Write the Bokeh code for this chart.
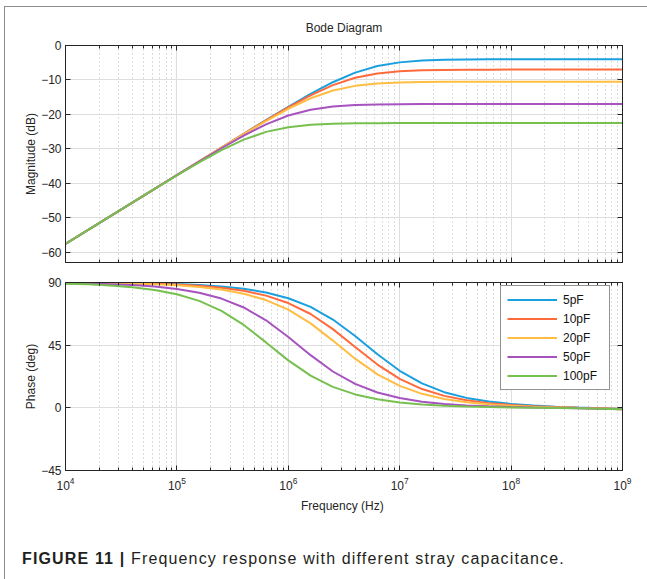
from bokeh.plotting import figure
from bokeh.models import (FixedTicker, LogAxis, LinearAxis, Legend, LegendItem,
                          Div, CustomJSTickFormatter, Range1d)
from bokeh.layouts import column
from bokeh.embed import file_html
from bokeh.resources import INLINE

# ---------------- data ----------------
freq = [1.0e4, 1.585e4, 2.512e4, 3.981e4, 6.310e4,
        1.0e5, 1.585e5, 2.512e5, 3.981e5, 6.310e5,
        1.0e6, 1.585e6, 2.512e6, 3.981e6, 6.310e6,
        1.0e7, 1.585e7, 2.512e7, 3.981e7, 6.310e7,
        1.0e8, 1.585e8, 2.512e8, 3.981e8, 6.310e8,
        1.0e9]

series_labels = ["5pF", "10pF", "20pF", "50pF", "100pF"]

mag_5pF = [-57.6, -53.6, -49.6, -45.6, -41.6, -37.6, -33.6, -29.61, -25.63, -21.68,
           -17.79, -14.05, -10.66, -7.88, -5.97, -4.90, -4.38, -4.16, -4.06, -4.02,
           -4.01, -4.0, -4.0, -4.0, -4.0, -4.0]
mag_10pF = [-57.6, -53.6, -49.6, -45.6, -41.6, -37.6, -33.61, -29.62, -25.66, -21.75,
            -17.96, -14.46, -11.50, -9.37, -8.10, -7.47, -7.19, -7.08, -7.03, -7.01,
            -7.0, -7.0, -7.0, -7.0, -7.0, -7.0]
mag_20pF = [-57.6, -53.6, -49.6, -45.6, -41.6, -37.61, -33.62, -29.65, -25.73, -21.93,
            -18.37, -15.33, -13.08, -11.72, -11.03, -10.72, -10.59, -10.54, -10.51, -10.5,
            -10.5, -10.5, -10.5, -10.5, -10.5, -10.5]
mag_50pF = [-57.6, -53.6, -49.6, -45.6, -41.62, -37.64, -33.69, -29.83, -26.16, -22.89,
            -20.32, -18.64, -17.73, -17.30, -17.12, -17.05, -17.02, -17.0, -17.0, -17.0,
            -17.0, -17.0, -17.0, -17.0, -17.0, -17.0]
mag_100pF = [-57.6, -53.6, -49.61, -45.62, -41.65, -37.73, -33.93, -30.37, -27.33, -25.08,
             -23.72, -23.03, -22.72, -22.59, -22.54, -22.51, -22.5, -22.5, -22.5, -22.5,
             -22.5, -22.5, -22.5, -22.5, -22.5, -22.5]

ph_5pF = [89.89, 89.82, 89.71, 89.55, 89.28, 88.86, 88.19, 87.13, 85.46, 82.82,
          78.72, 72.45, 63.38, 51.54, 38.46, 26.62, 17.53, 11.25, 7.13, 4.47,
          2.76, 1.63, 0.85, 0.27, -0.26, -0.85]
ph_10pF = [89.85, 89.76, 89.62, 89.40, 89.05, 88.49, 87.61, 86.22, 84.02, 80.58,
           75.26, 67.37, 56.54, 43.70, 31.07, 20.81, 13.47, 8.58, 5.40, 3.38,
           2.07, 1.19, 0.58, 0.10, -0.37, -0.92]
ph_20pF = [89.80, 89.68, 89.49, 89.19, 88.72, 87.97, 86.78, 84.91, 81.96, 77.38,
           70.47, 60.65, 48.29, 35.30, 24.07, 15.74, 10.06, 6.37, 4.00, 2.49,
           1.51, 0.84, 0.35, -0.04, -0.46, -0.98]
ph_50pF = [89.53, 89.26, 88.83, 88.15, 87.06, 85.35, 82.66, 78.46, 72.07, 62.84,
           50.90, 37.82, 26.09, 17.17, 11.03, 7.01, 4.42, 2.77, 1.72, 1.05,
           0.59, 0.26, -0.01, -0.27, -0.61, -1.07]
ph_100pF = [89.15, 88.66, 87.87, 86.63, 84.67, 81.59, 76.81, 69.62, 59.51, 46.98,
            34.06, 23.11, 15.07, 9.64, 6.12, 3.87, 2.42, 1.51, 0.92, 0.54,
            0.28, 0.06, -0.14, -0.35, -0.66, -1.10]

mag_series = [mag_5pF, mag_10pF, mag_20pF, mag_50pF, mag_100pF]
ph_series = [ph_5pF, ph_10pF, ph_20pF, ph_50pF, ph_100pF]

x_major = [1e4, 1e5, 1e6, 1e7, 1e8, 1e9]
mag_ticks = [-60, -50, -40, -30, -20, -10, 0]
ph_ticks = [-45, 0, 45, 90]

# ---------------- styles ----------------
colors = ["#1a9fdf", "#ff6a3c", "#ffbd44", "#a653bf", "#77c04f"]
FONT = "Liberation Sans"
TXT = "#262626"
FRAME = "#8c8c8c"
x_minor = [m * 10 ** e for e in range(4, 9) for m in range(2, 10)]

left_line = ("linear-gradient(to right, transparent 4px, %s 4px, %s 5px, transparent 5px) "
             "0 6px / 100%% 100%% no-repeat" % (FRAME, FRAME))
top_line = ("linear-gradient(to bottom, transparent 6px, %s 6px, %s 7px, transparent 7px) "
            "4px 0 / 100%% 100%% no-repeat" % (FRAME, FRAME))


def blank():
    return CustomJSTickFormatter(code="return '';")


def style_axes(p, yticks):
    for ax in p.axis:
        ax.axis_line_color = TXT
        ax.major_tick_line_color = TXT
        ax.minor_tick_line_color = TXT
        ax.major_tick_in = 5
        ax.major_tick_out = 0
        ax.minor_tick_in = 3
        ax.minor_tick_out = 0
        ax.major_label_text_font = FONT
        ax.major_label_text_font_size = "12px"
        ax.major_label_text_color = TXT
        ax.axis_label_text_font = FONT
        ax.axis_label_text_font_size = "12px"
        ax.axis_label_text_font_style = "normal"
        ax.axis_label_text_color = TXT
    p.xaxis.ticker = FixedTicker(ticks=x_major, minor_ticks=x_minor)
    p.yaxis.ticker = FixedTicker(ticks=yticks)
    p.yaxis.minor_tick_in = 0
    p.yaxis.major_label_standoff = 4
    p.yaxis.axis_label_standoff = 0
    p.xgrid.ticker = FixedTicker(ticks=x_major, minor_ticks=x_minor)
    p.xgrid.grid_line_color = "#dedede"
    p.xgrid.minor_grid_line_color = "#b8b8b8"
    p.xgrid.minor_grid_line_dash = "1 3"
    p.ygrid.ticker = FixedTicker(ticks=yticks)
    p.ygrid.grid_line_color = "#dedede"
    p.outline_line_color = TXT
    p.border_fill_alpha = 0

    top = LogAxis(ticker=FixedTicker(ticks=x_major, minor_ticks=x_minor), formatter=blank(),
                  major_tick_in=5, major_tick_out=0, minor_tick_in=3, minor_tick_out=0,
                  major_label_standoff=0, axis_line_color=TXT,
                  major_tick_line_color=TXT, minor_tick_line_color=TXT)
    p.add_layout(top, "above")
    right = LinearAxis(ticker=FixedTicker(ticks=yticks), formatter=blank(),
                       major_tick_in=5, major_tick_out=0, minor_tick_in=0, minor_tick_out=0,
                       major_label_standoff=0, axis_line_color=TXT,
                       major_tick_line_color=TXT)
    p.add_layout(right, "right")


# ---------------- magnitude ----------------
p1 = figure(width=647, height=272, x_axis_type="log",
            x_range=Range1d(1e4, 1e9), y_range=Range1d(-63, 0),
            output_backend="svg", toolbar_location=None,
            min_border_left=65, min_border_right=25, min_border_top=45, min_border_bottom=10,
            title="Bode Diagram",
            styles={"background": top_line})
p1.title.align = "center"
p1.title.text_font = FONT
p1.title.text_font_size = "12px"
p1.title.text_font_style = "normal"
p1.title.text_color = TXT
p1.title.standoff = 17
p1.title.padding = 2
for ys, c in zip(mag_series, colors):
    p1.line(freq, ys, line_color=c, line_width=2)
style_axes(p1, mag_ticks)
p1.below[0].formatter = blank()
p1.left[0].axis_label = "Magnitude (dB)"

# ---------------- phase ----------------
p2 = figure(width=647, height=248, x_axis_type="log",
            x_range=Range1d(1e4, 1e9), y_range=Range1d(-45, 90),
            output_backend="svg", toolbar_location=None,
            min_border_left=65, min_border_right=25, min_border_top=10, min_border_bottom=50)
renderers = []
for ys, c in zip(ph_series, colors):
    renderers.append(p2.line(freq, ys, line_color=c, line_width=2))
style_axes(p2, ph_ticks)
p2.below[0].axis_label = "Frequency  (Hz)"
p2.below[0].major_label_standoff = 6
p2.below[0].axis_label_standoff = 6
p2.left[0].axis_label = "Phase (deg)"

legend = Legend(items=[LegendItem(label=l, renderers=[r]) for l, r in zip(series_labels, renderers)],
                location=(435, 80))
legend.border_line_color = TXT
legend.border_line_width = 1
legend.background_fill_color = "white"
legend.background_fill_alpha = 1.0
legend.label_text_font = FONT
legend.label_text_font_size = "12px"
legend.label_text_color = "#111111"
legend.glyph_width = 50
legend.glyph_height = 15
legend.label_height = 15
legend.label_width = 40
legend.label_standoff = 6
legend.spacing = 4
legend.padding = 6
legend.margin = 0
p2.add_layout(legend)

caption = Div(width=647, height=59,
              text='<div style="font-family:\'Liberation Sans\',Arial,sans-serif;font-size:16px;'
                   'letter-spacing:1.15px;color:#231f20;padding:23px 0 0 17px;white-space:nowrap;">'
                   '<b>FIGURE 11 |</b> Frequency response with different stray capacitance.</div>')

layout = column(p1, p2, caption, spacing=0, styles={"background": left_line})

with open("out.html", "w", encoding="utf-8") as f:
    f.write(file_html(layout, INLINE))
